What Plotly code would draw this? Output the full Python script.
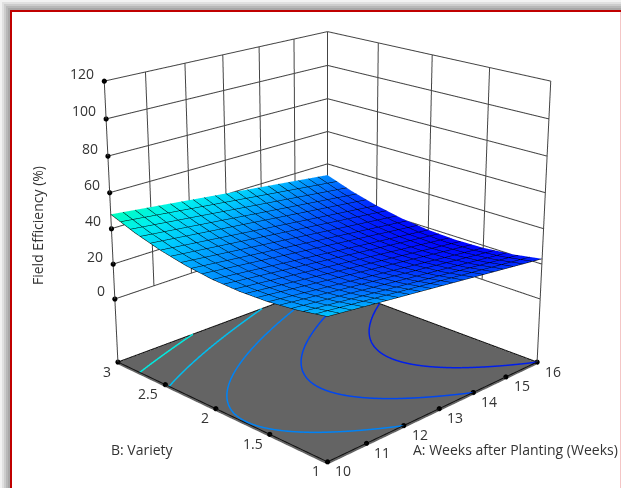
import plotly.graph_objects as go
import numpy as np

weeks = [10, 10.5, 11, 11.5, 12, 12.5, 13, 13.5, 14, 14.5, 15, 15.5, 16]
variety = [1, 1.25, 1.5, 1.75, 2, 2.25, 2.5, 2.75, 3]
# field efficiency: one row per week value, one column per variety value
eff_w10 = [38, 35.22, 33.6, 33.12, 33.8, 35.62, 38.6, 42.72, 48]
eff_w105 = [36.75, 33.97, 32.35, 31.87, 32.55, 34.37, 37.35, 41.47, 46.75]
eff_w11 = [35.5, 32.72, 31.1, 30.62, 31.3, 33.12, 36.1, 40.22, 45.5]
eff_w115 = [34.25, 31.47, 29.85, 29.37, 30.05, 31.87, 34.85, 38.97, 44.25]
eff_w12 = [33, 30.22, 28.6, 28.12, 28.8, 30.62, 33.6, 37.72, 43]
eff_w125 = [31.75, 28.97, 27.35, 26.87, 27.55, 29.37, 32.35, 36.47, 41.75]
eff_w13 = [30.5, 27.72, 26.1, 25.62, 26.3, 28.12, 31.1, 35.22, 40.5]
eff_w135 = [29.25, 26.47, 24.85, 24.37, 25.05, 26.87, 29.85, 33.97, 39.25]
eff_w14 = [28, 25.22, 23.6, 23.12, 23.8, 25.62, 28.6, 32.72, 38]
eff_w145 = [26.75, 23.97, 22.35, 21.87, 22.55, 24.37, 27.35, 31.47, 36.75]
eff_w15 = [25.5, 22.72, 21.1, 20.62, 21.3, 23.12, 26.1, 30.22, 35.5]
eff_w155 = [24.25, 21.47, 19.85, 19.37, 20.05, 21.87, 24.85, 28.97, 34.25]
eff_w16 = [23, 20.22, 18.6, 18.12, 18.8, 20.62, 23.6, 27.72, 33]
eff_rows = [eff_w10, eff_w105, eff_w11, eff_w115, eff_w12, eff_w125, eff_w13,
            eff_w135, eff_w14, eff_w145, eff_w15, eff_w155, eff_w16]

week_ticks = [10, 11, 12, 13, 14, 15, 16]
variety_ticks = [1, 1.5, 2, 2.5, 3]
variety_labels = ["1", "1.5", "2", "2.5", "3"]
eff_ticks = [0, 20, 40, 60, 80, 100, 120]
contour_levels = [23.02, 28.02, 33.02, 38.05, 43.02]
contour_colors = ["rgb(0,30,235)", "rgb(0,70,240)", "rgb(0,130,245)", "rgb(0,190,240)", "rgb(0,235,225)"]
FLOOR = -37

VW, VH = 621, 488              # the visible window
W, H = 1677, 1318              # drawing surface (narrow view angle)
OX, OY = 511, 433              # how far it is slid up/left inside the window
def px(x): return (x + OX) / W
def py(y): return 1 - (y + OY) / H

z = np.array(eff_rows).T
fig = go.Figure()
fig.add_trace(go.Surface(
    x=weeks, y=variety, z=z.tolist(), showscale=False, hoverinfo="skip",
    cmin=18, cmax=48,
    colorscale=[[0, "rgb(0,0,255)"], [0.167, "rgb(0,30,255)"], [0.333, "rgb(0,80,255)"], [0.5, "rgb(0,140,255)"],
                [0.667, "rgb(0,200,255)"], [0.833, "rgb(0,240,240)"], [1, "rgb(0,255,190)"]],
    lighting=dict(ambient=1, diffuse=0, specular=0, fresnel=0),
    contours=dict(
        x=dict(show=True, start=10, end=16, size=0.3, color="#000000", width=1, highlight=False),
        y=dict(show=True, start=1, end=3, size=0.1, color="#000000", width=1, highlight=False),
        z=dict(show=False, highlight=False),
    ),
))

fine_b = np.linspace(variety[0], variety[-1], 81)
fine_z = np.array([np.polyval(np.polyfit(variety, z[:, j], 2), fine_b) for j in range(len(weeks))]).T

def trace_level(level):
    xs, ys = [], []
    for i in range(len(fine_b) - 1):
        for j in range(len(weeks) - 1):
            corners = [(weeks[j], fine_b[i], fine_z[i, j]), (weeks[j + 1], fine_b[i], fine_z[i, j + 1]),
                       (weeks[j + 1], fine_b[i + 1], fine_z[i + 1, j + 1]), (weeks[j], fine_b[i + 1], fine_z[i + 1, j])]
            pts = []
            for k in range(4):
                a, b = corners[k], corners[(k + 1) % 4]
                if (a[2] - level) * (b[2] - level) < 0:
                    t = (level - a[2]) / (b[2] - a[2])
                    pts.append((a[0] + t * (b[0] - a[0]), a[1] + t * (b[1] - a[1])))
            if len(pts) >= 2:
                xs += [pts[0][0], pts[1][0], None]
                ys += [pts[0][1], pts[1][1], None]
            if len(pts) == 4:
                xs += [pts[2][0], pts[3][0], None]
                ys += [pts[2][1], pts[3][1], None]
    return xs, ys

for level, color in zip(contour_levels, contour_colors):
    xs, ys = trace_level(level)
    fig.add_trace(go.Scatter3d(x=xs, y=ys, z=[FLOOR if v is not None else None for v in xs], mode="lines",
                               line=dict(color=color, width=3), hoverinfo="skip", showlegend=False))

# back-wall grid, built from the tick arrays
lx, ly, lz = [], [], []
def seg(a, b):
    lx.extend([a[0], b[0], None]); ly.extend([a[1], b[1], None]); lz.extend([a[2], b[2], None])
xmin, xmax, ymin, ymax = weeks[0], weeks[-1], variety[0], variety[-1]
for t in eff_ticks:
    seg((xmin, ymax, t), (xmax, ymax, t))
    seg((xmax, ymax, t), (xmax, ymin, t))
for t in week_ticks[1:-1]:
    seg((t, ymax, 0), (t, ymax, eff_ticks[-1]))
for t in variety_ticks[1:-1]:
    seg((xmax, t, 0), (xmax, t, eff_ticks[-1]))
seg((xmax, ymax, 0), (xmax, ymax, eff_ticks[-1]))
seg((xmin, ymax, FLOOR), (xmin, ymax, eff_ticks[-1]))
seg((xmax, ymin, FLOOR), (xmax, ymin, eff_ticks[-1]))
fig.add_trace(go.Scatter3d(x=lx, y=ly, z=lz, mode="lines", line=dict(color="#444444", width=2),
                           hoverinfo="skip", showlegend=False))
# floor edges
fx = [xmin, xmax, xmax, xmin, xmin]
fy = [ymax, ymax, ymin, ymin, ymax]
fig.add_trace(go.Scatter3d(x=fx, y=fy, z=[FLOOR] * 5, mode="lines", line=dict(color="#111111", width=2),
                           hoverinfo="skip", showlegend=False))
# tick dots
dx = week_ticks + [xmin] * len(variety_ticks) + [xmin] * len(eff_ticks)
dy = [ymin] * len(week_ticks) + variety_ticks + [ymax] * len(eff_ticks)
dz = [FLOOR] * (len(week_ticks) + len(variety_ticks)) + eff_ticks
fig.add_trace(go.Scatter3d(x=dx, y=dy, z=dz, mode="markers", marker=dict(color="black", size=3),
                           hoverinfo="skip", showlegend=False))

FONT = dict(family="Open Sans", size=14, color="#333333")
ann = []
for t in week_ticks:
    ann.append(dict(x=t, y=ymin, z=FLOOR, text=str(t), showarrow=False, xanchor="left", xshift=6, yshift=-9, font=FONT))
for t, s in zip(variety_ticks, variety_labels):
    ann.append(dict(x=xmin, y=t, z=FLOOR, text=s, showarrow=False, xanchor="right", xshift=-5, yshift=-9, font=FONT))
for t in eff_ticks:
    ann.append(dict(x=xmin, y=ymax, z=t, text=str(t), showarrow=False, xanchor="right", xshift=-8, yshift=8, font=FONT))

axis = dict(showgrid=False, zeroline=False, showline=False, showticklabels=False,
            showspikes=False, showbackground=False, title=dict(text=""), ticks="")
def rect(x0, x1, y0, y1, c):
    return dict(type="rect", xref="paper", yref="paper", x0=px(x0), x1=px(x1), y0=py(y1), y1=py(y0),
                line=dict(width=0), fillcolor=c)
shapes = []
for i, c in enumerate(["#f2f2f2", "#e0e0e0", "#cccccc", "#b8b8b8", "#a8a8a8"]):
    shapes.append(rect(i * 2, i * 2 + 2, i * 2, VH, c))
    shapes.append(rect(i * 2, VW, i * 2, i * 2 + 2, c))
shapes.append(rect(10, 12, 10, VH, "#c00000"))
shapes.append(rect(10, VW, 10, 12, "#c00000"))
shapes.append(rect(620, VW, 12, VH, "#f4c6c6"))

CENTER = dict(xanchor="center", yanchor="middle", xref="paper", yref="paper", showarrow=False, font=FONT)
paper_ann = [
    dict(CENTER, x=px(142), y=py(449), text="B: Variety"),
    dict(CENTER, x=px(515), y=py(449), text="A: Weeks after Planting (Weeks)"),
    dict(CENTER, x=px(37), y=py(226), text="Field Efficiency (%)", textangle=-90),
]

fig.update_layout(
    width=W, height=H, margin=dict(l=0, r=0, t=0, b=0), paper_bgcolor="white",
    showlegend=False, shapes=shapes, annotations=paper_ann,
    scene=dict(
        domain=dict(x=[0, 1], y=[0, 1]),
        xaxis=dict(axis, range=[xmin - 0.03, xmax + 0.03]),
        yaxis=dict(axis, range=[ymin - 0.01, ymax + 0.01]),
        zaxis=dict(axis, range=[FLOOR - 0.8, eff_ticks[-1] + 0.8], showbackground=True, backgroundcolor="#646464"),
        aspectmode="manual", aspectratio=dict(x=1, y=1, z=0.975),
        camera=dict(eye=dict(x=-3.43, y=-3.43, z=1.735), center=dict(x=0, y=0, z=0), up=dict(x=0, y=0, z=1)),
        annotations=ann,
        bgcolor="rgba(0,0,0,0)",
    ),
)
fig.write_html("out.html", post_script=(
    "document.documentElement.style.overflow='hidden';"
    "document.body.style.overflow='hidden';"
    f"document.body.style.margin='-{OY}px 0 0 -{OX}px';"
))
